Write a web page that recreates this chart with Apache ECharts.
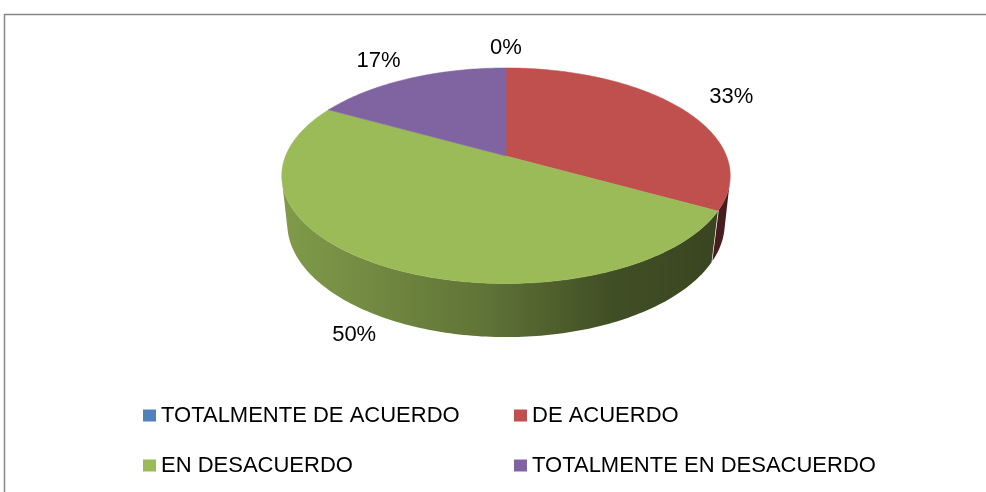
<!DOCTYPE html>
<html lang="es">
<head>
    <meta charset="UTF-8">
    <title>Encuesta</title>
    <script src="https://cdn.jsdelivr.net/npm/echarts@6/dist/echarts.min.js"></script>
    <style>
        html, body {margin: 0;padding: 0;background: #fff}
        #chart {width: 986px;height: 492px}
    </style>
</head>
<body>
<div id="chart"></div>
<script>
    // datos del grafico
    const categories = ['TOTALMENTE DE ACUERDO', 'DE ACUERDO', 'EN DESACUERDO', 'TOTALMENTE EN DESACUERDO']
    const percents = [0, 33, 50, 17]
    const colors = ['#4F81BD', '#C0504D', '#9BBB59', '#8064A2']

    // vista 3D (perspectiva tipo Excel)
    const view = {cx: 506, cy: 156, k: 1062, D: 4.817, tilt: 28.2, depth: 0.248}
    const FONT = '"Liberation Sans", Arial, sans-serif'

    const rad = d => d * Math.PI / 180
    const sT = Math.sin(rad(view.tilt)), cT = Math.cos(rad(view.tilt))

    // angulo en grados, sentido horario desde arriba; y = altura (0 arriba, -depth abajo)
    function project(theta, r, y) {
        let X = r * Math.sin(rad(theta)), Z = r * Math.cos(rad(theta))
        let zc = view.D - y * sT + Z * cT
        let yc = y * cT + Z * sT
        return [view.cx + view.k * X / zc, view.cy - view.k * yc / zc]
    }

    function shade(hex, f) {
        let n = parseInt(hex.slice(1), 16)
        let r = Math.round(((n >> 16) & 255) * f), g = Math.round(((n >> 8) & 255) * f), b = Math.round((n & 255) * f)
        return 'rgb(' + r + ',' + g + ',' + b + ')'
    }

    const total = percents.reduce((a, b) => a + b, 0)
    const starts = []
    percents.reduce((acc, v, i) => { starts[i] = acc; return acc + v / total * 360 }, 0)

    // rango visible de la pared lateral
    const lim = Math.acos(-1 / (view.D * cT)) * 180 / Math.PI

    function renderSlice(params, api) {
        let i = params.seriesIndex
        let v = api.value(0)
        let a1 = starts[i], a2 = a1 + v / total * 360
        let color = colors[i]
        let children = []

        if (a2 > a1) {
            // pared lateral
            let b1 = Math.max(a1, lim - 1.5), b2 = Math.min(a2, 360 - lim)
            if (b2 > b1) {
                let pts = []
                for (let t = b1; t <= b2 + 1e-6; t += Math.min(1, b2 - b1)) pts.push(project(t, 1, 0))
                for (let t = b2; t >= b1 - 1e-6; t -= Math.min(1, b2 - b1)) pts.push(project(t, 1, -view.depth))
                let left = project(260, 1, 0)[0] - 10, right = project(100, 1, 0)[0] + 10
                children.push({
                    type: 'polygon',
                    z2: 1,
                    shape: {points: pts},
                    style: {
                        fill: new echarts.graphic.LinearGradient(left, 0, right, 0, [
                            {offset: 0, color: shade(color, 0.84)},
                            {offset: 0.45, color: shade(color, 0.62)},
                            {offset: 0.72, color: shade(color, 0.42)},
                            {offset: 1, color: shade(color, 0.36)}
                        ], true)
                    }
                })
            }
            // cara superior
            let top = [project(0, 0, 0)]
            for (let t = a1; t < a2; t += 1) top.push(project(t, 1, 0))
            top.push(project(a2, 1, 0))
            children.push({
                type: 'polygon',
                z2: 10,
                shape: {points: top},
                style: {fill: color, stroke: color, lineWidth: 0.5}
            })
        }

        // etiqueta
        let m = (a1 + a2) / 2
        let rim = project(m, 1, Math.cos(rad(m)) >= 0 ? 0 : -view.depth)
        children.push({
            type: 'text',
            z2: 20,
            style: {
                text: v + '%',
                x: rim[0] + Math.sin(rad(m)) * 60,
                y: rim[1] - Math.cos(rad(m)) * 20,
                textAlign: 'center',
                textVerticalAlign: 'middle',
                fontSize: 22,
                fontFamily: FONT,
                fill: '#000'
            }
        })
        return {type: 'group', children: children}
    }

    const legendLeft = [143, 514, 143, 514]
    const legendTop = [403, 403, 453, 453]

    let myChart = echarts.init(document.getElementById('chart'))
    let option = {
        animation: false,
        backgroundColor: '#fff',
        graphic: [{
            type: 'rect',
            shape: {x: 4.5, y: 14.5, width: 1000, height: 500},
            style: {fill: 'none', stroke: '#868686', lineWidth: 1.5},
            silent: true
        }],
        legend: categories.map((name, i) => ({
            data: [name],
            left: legendLeft[i],
            top: legendTop[i],
            padding: 0,
            icon: 'rect',
            itemWidth: 13,
            itemHeight: 12,
            selectedMode: false,
            textStyle: {fontSize: 22, lineHeight: 25, fontFamily: FONT, color: '#000'}
        })),
        series: categories.map((name, i) => ({
            name: name,
            type: 'custom',
            coordinateSystem: 'none',
            itemStyle: {color: colors[i]},
            renderItem: renderSlice,
            data: [[percents[i]]]
        }))
    }
    myChart.setOption(option)
</script>
</body>
</html>
